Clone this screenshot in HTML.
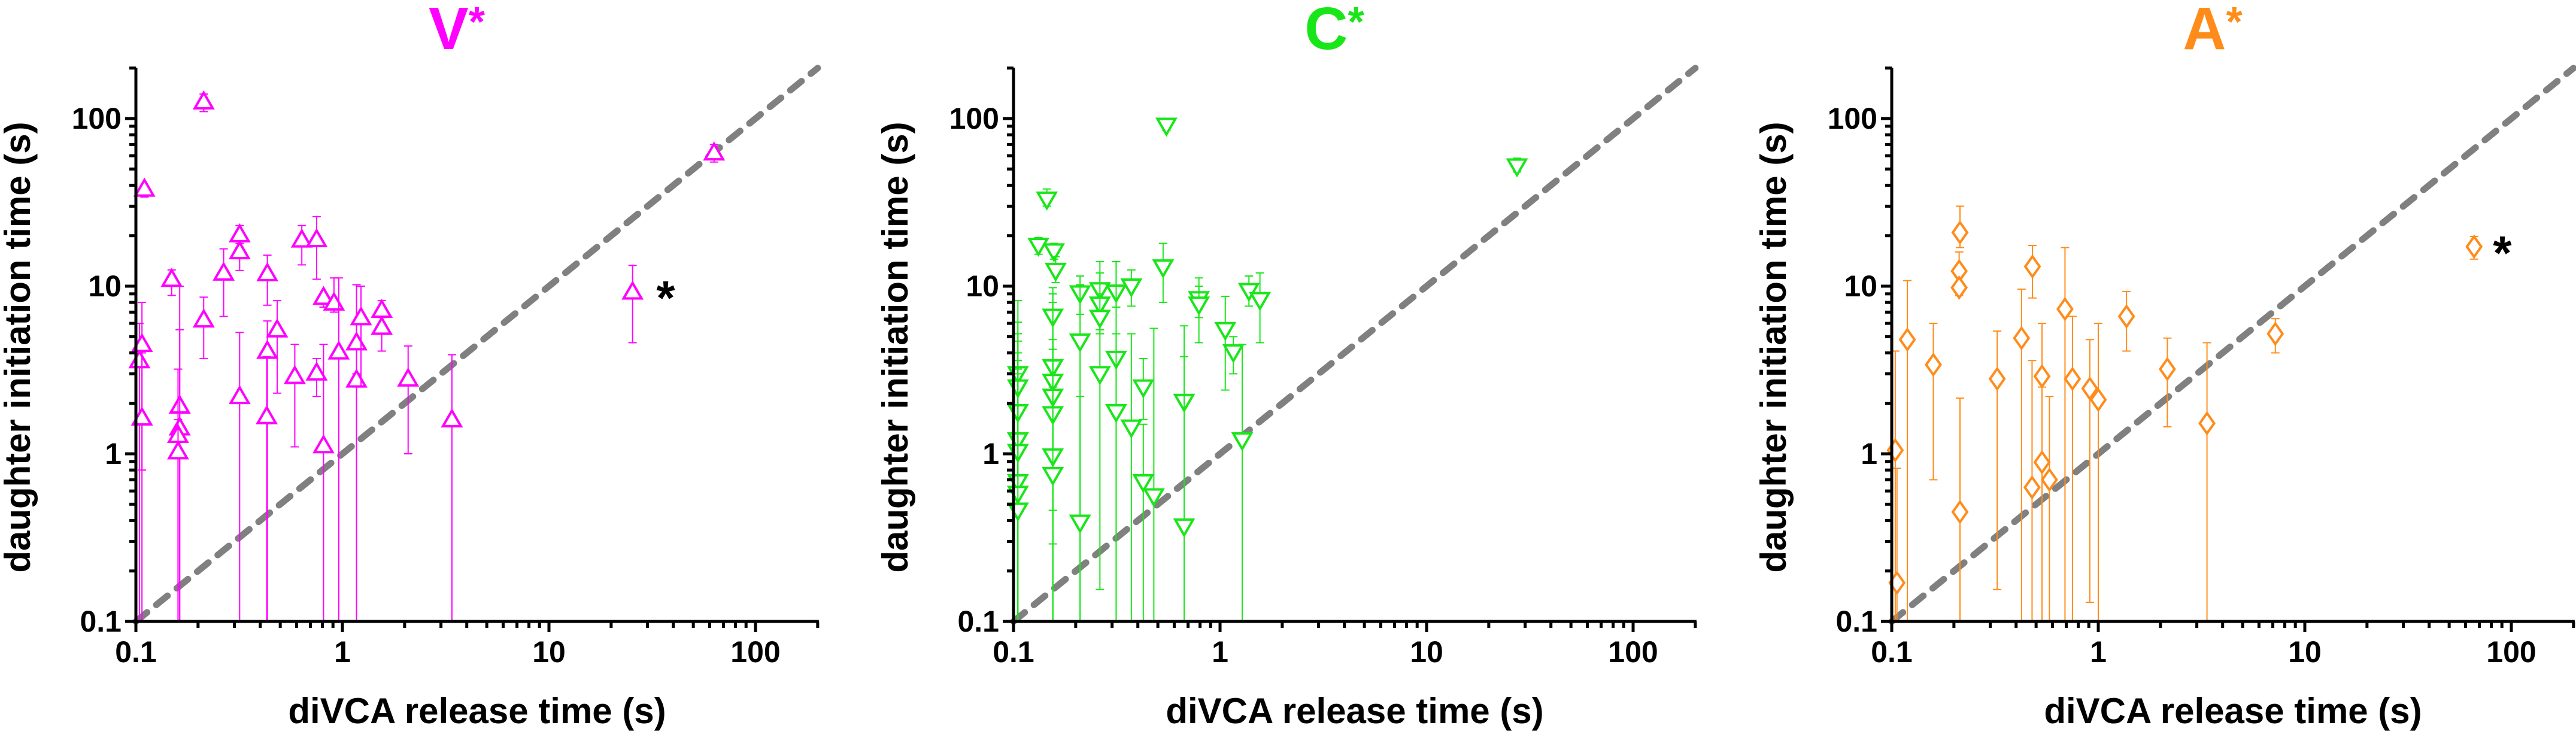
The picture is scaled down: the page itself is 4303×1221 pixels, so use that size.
<!DOCTYPE html>
<html><head><meta charset="utf-8"><style>
html,body{margin:0;padding:0;background:#fff;}
svg{display:block;}
text{font-family:"Liberation Sans Narrow","Liberation Sans",sans-serif;font-weight:bold;}
</style></head><body>
<svg id="chart" width="4303" height="1221" viewBox="0 0 4303 1221" xmlns="http://www.w3.org/2000/svg"></svg>
<script>
// ---- data: [x, y, lowerErr, upperErr]; 0.01 lower = extends below axis
const xTickLabels = ["0.1","1","10","100"];
const yTickLabels = ["0.1","1","10","100"];
const panelTitles = ["V*","C*","A*"];
const vX  = [0.104,0.107,0.107,0.11,0.149,0.163,0.163,0.16,0.16,0.213,0.213,0.266,0.318,0.318,0.318,0.433,0.433,0.43,0.483,0.588,0.636,0.75,0.75,0.81,0.81,0.91,0.96,1.17,1.17,1.23,1.55,1.55,2.08,3.39,25.4,63];
const vY  = [3.6,4.5,1.64,38,11,1.93,1.43,1.29,1.03,126,6.3,12,20.3,16.1,2.2,11.9,4.1,1.67,5.5,2.9,18.9,19,3.04,8.6,1.12,7.95,4.06,4.6,2.76,6.5,7.2,5.7,2.8,1.6,9.25,62.5];
const vLo = [0.01,0.8,0.01,34,8.8,0.01,0.01,0.01,0.01,110,3.7,6.6,18,12.4,0.01,7.7,0.01,0.01,2.3,1.1,13.4,11,2.2,7.5,0.01,7,0.01,0.01,2.5,2.5,6.5,4.1,1.0,0.01,4.6,55];
const vHi = [6,8,4,40,12.5,10,5.5,3.2,1.6,140,8.6,16.7,23,17,5.3,15.3,6.2,3.8,8.2,4.5,23,26,3.7,9,4.5,11.2,11.2,10.2,3,10,8.2,6.5,4.4,3.9,13.3,70];
const cX  = [0.105,0.105,0.105,0.105,0.105,0.105,0.105,0.105,0.132,0.145,0.157,0.16,0.155,0.155,0.155,0.155,0.155,0.155,0.155,0.21,0.21,0.21,0.262,0.262,0.262,0.262,0.314,0.314,0.314,0.372,0.372,0.425,0.425,0.478,0.55,0.53,0.67,0.67,0.79,0.79,1.06,1.16,1.28,1.38,1.56,27.4];
const cY  = [3.0,2.5,1.78,1.21,1.03,0.68,0.58,0.46,17.5,33,16.2,12.4,6.6,3.3,2.7,2.2,1.73,0.97,0.75,9.1,4.7,0.39,9.5,7.8,6.5,3.0,9.2,3.7,1.78,10,1.44,2.5,0.68,0.56,91,13,2.05,0.37,8.4,7.8,5.5,4.05,1.21,9.4,8.3,52];
const cLo = [0.01,0.01,0.01,0.01,0.01,0.01,0.01,0.01,15.5,30,14.5,10.5,0.46,0.01,0.01,0.29,0.01,0.01,0.01,6.8,0.01,0.01,7.2,5.5,5.2,0.155,7.5,0.01,0.01,7.6,0.01,1.6,0.01,0.01,85,8,0.01,0.01,4.6,6.5,2.4,3.0,0.01,7.6,4.6,48];
const cHi = [8.2,6.1,5.2,4.7,4.0,3.6,3.2,3.0,19.5,38,18,15,9.8,9,8,4.2,4.8,3.6,2.5,11.5,10.2,2.2,14,12,9,5.5,14,14,5.2,12.5,5.2,3.7,1.5,5.6,100,18,5.8,3.8,11.2,10,8.7,5,4.5,11.5,12,58];
const aX  = [0.104,0.106,0.119,0.159,0.214,0.212,0.212,0.214,0.324,0.425,0.48,0.478,0.534,0.534,0.58,0.69,0.75,0.91,1.0,1.37,2.16,3.36,7.2,66];
const aY  = [1.05,0.17,4.8,3.4,20.9,12.3,9.8,0.45,2.8,4.9,13.1,0.63,2.9,0.89,0.7,7.3,2.8,2.45,2.1,6.6,3.2,1.52,5.2,17.2];
const aLo = [0.01,0.01,0.01,0.7,17,10,8.8,0.01,0.155,0.01,8.5,0.01,0.01,0.01,0.01,0.01,0.01,0.13,0.01,4.1,1.45,0.01,4.0,14.5];
const aHi = [4.1,0.82,10.8,6.0,30,16,10.5,2.15,5.4,9.6,17.5,3.6,6.0,2.5,2.2,17,6.6,4.8,6.0,9.3,4.9,4.6,6.4,19.8];

const NS="http://www.w3.org/2000/svg";
const svg=document.getElementById('chart');
function mk(tag,attrs,parent){const e=document.createElementNS(NS,tag);for(const k in attrs)e.setAttribute(k,attrs[k]);(parent||svg).appendChild(e);return e;}

const BOTTOM=1038, TOP=113, YDEC=280, XDEC=345;
function yS(v){return BOTTOM-(Math.log10(v)+1)*YDEC;}

function panel(idx,ox,X,Y,LO,HI,color,shape,star){
  const g=mk('g',{});
  
  
  const xS=v=>ox+(Math.log10(v)+1)*XDEC;
  const right=xS(200);
  const cid='clip'+idx;
  const defs=mk('defs',{},g);
  const cp=mk('clipPath',{id:cid},defs);
  mk('rect',{x:ox-30,y:TOP-40,width:right-ox+60,height:BOTTOM-TOP+40},cp);
  // title
  const t=mk('text',{x:ox+536,y:82,'text-anchor':'middle','font-size':100,fill:color,'font-family':'Liberation Sans, sans-serif'},g);
  
  
  t.textContent=panelTitles[idx][0];
  const ts=mk('tspan',{'font-size':70,dy:-22},t);ts.textContent='*';
  // diagonal
  const d=mk('line',{x1:xS(0.1),y1:yS(0.1),x2:xS(200),y2:yS(200),stroke:'#808080','stroke-width':11,'stroke-dasharray':'24 20','stroke-linecap':'round'},g);
  
  
  // error bars + markers
  const pg=mk('g',{'clip-path':'url(#'+cid+')'},g);
  for(let i=0;i<X.length;i++){
    const cx=xS(X[i]), cy=yS(Y[i]);
    const yl=Math.min(yS(LO[i]),BOTTOM), yh=yS(HI[i]);
    const eb=mk('g',{stroke:color,'stroke-width':2,fill:'none'},pg);
    
    
    mk('line',{x1:cx,y1:yl,x2:cx,y2:yh},eb);
    mk('line',{x1:cx-7,y1:yh,x2:cx+7,y2:yh},eb);
    if(LO[i]>0.1) mk('line',{x1:cx-7,y1:yl,x2:cx+7,y2:yl},eb);
    let pts;
    if(shape==='up') pts=[[cx,cy-15],[cx+15,cy+11],[cx-15,cy+11]];
    else if(shape==='down') pts=[[cx,cy+15],[cx+15,cy-11],[cx-15,cy-11]];
    else pts=[[cx,cy-17],[cx+12,cy],[cx,cy+17],[cx-12,cy]];
    const m=mk('polygon',{points:pts.map(p=>p.join(',')).join(' '),fill:'#fff',stroke:color,'stroke-width':4},pg);
    
    
  }
  // axes
  const ax=mk('g',{stroke:'#000','stroke-width':5},g);
  
  
  mk('line',{x1:ox,y1:BOTTOM,x2:right+2,y2:BOTTOM},ax);
  mk('line',{x1:ox,y1:BOTTOM+2,x2:ox,y2:TOP},ax);
  for(let dcd=-1;dcd<=2;dcd++){
    for(let k=1;k<=9;k++){
      const v=k*Math.pow(10,dcd); if(v>200) break;
      const L=(k===1)?18:11;
      const xx=xS(v); mk('line',{x1:xx,y1:BOTTOM,x2:xx,y2:BOTTOM+L},ax);
      const yy=yS(v); mk('line',{x1:ox,y1:yy,x2:ox-L,y2:yy},ax);
    }
  }
  xTickLabels.forEach((s,j)=>{
    const v=Math.pow(10,j-1);
    const tl=mk('text',{x:xS(v),y:1106,'text-anchor':'middle','font-size':50,fill:'#000'},g);
    
    
    tl.textContent=s;
  });
  yTickLabels.forEach((s,j)=>{
    const v=Math.pow(10,j-1);
    const tl=mk('text',{x:ox-24,y:yS(v)+17,'text-anchor':'end','font-size':50,fill:'#000'},g);
    
    
    tl.textContent=s;
  });
  const xt=mk('text',{x:ox+570,y:1208,'text-anchor':'middle','font-size':60,fill:'#000'},g);
  
  
  xt.textContent='diVCA release time (s)';
  const yx=ox-177, yy=580;
  const yt=mk('text',{x:yx,y:yy,'text-anchor':'middle','font-size':60,fill:'#000',transform:'rotate(-90 '+yx+' '+yy+')'},g);
  
  
  yt.textContent='daughter initiation time (s)';
  if(star){
    const st=mk('text',{x:star[0],y:star[1],'text-anchor':'middle','font-size':80,fill:'#000','font-family':'Liberation Sans, sans-serif'},g);
    
    
    st.textContent='*';
  }
}
panel(0,227,vX,vY,vLo,vHi,'#ff00ff','up',[1112,525]);
panel(1,1693,cX,cY,cLo,cHi,'#19e619','down',null);
panel(2,3160,aX,aY,aLo,aHi,'#ff8c1a','diamond',[4180,450]);
</script>
</body></html>
